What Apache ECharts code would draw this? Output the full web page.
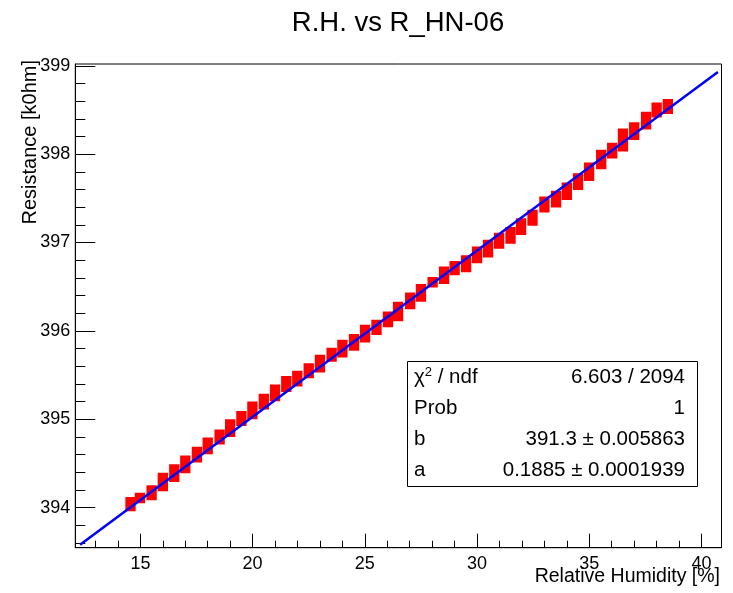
<!DOCTYPE html>
<html><head><meta charset="utf-8">
<script src="https://cdn.jsdelivr.net/npm/echarts@6/dist/echarts.min.js"></script>
<style>html,body{margin:0;padding:0;background:#fff}#c{width:733px;height:593px}</style>
</head><body><div id="c"></div>
<script>
// Cluster centres of the measured points (relative humidity [%], resistance [kOhm])
const rhCenters = [14.56, 14.98, 15.5, 16.0, 16.51, 17.0, 17.52, 18.0, 18.53, 19.0,
  19.5, 19.99, 20.5, 21.0, 21.5, 21.99, 22.5, 23.0, 23.52, 24.0,
  24.52, 25.01, 25.52, 26.03, 26.48, 27.02, 27.5, 28.02, 28.53, 29.0,
  29.51, 30.0, 30.49, 30.98, 31.49, 31.96, 32.47, 33.0, 33.52, 34.0,
  34.5, 34.99, 35.53, 36.02, 36.5, 37.0, 37.53, 38.0, 38.5];
const resCenters = [394.04, 394.11, 394.17, 394.29, 394.39, 394.49, 394.60, 394.70, 394.80, 394.90,
  395.01, 395.10, 395.20, 395.30, 395.40, 395.46, 395.55, 395.63, 395.73, 395.80,
  395.87, 395.97, 396.04, 396.13, 396.22, 396.34, 396.43, 396.55, 396.63, 396.71,
  396.76, 396.86, 396.93, 397.02, 397.08, 397.18, 397.28, 397.43, 397.49, 397.58,
  397.69, 397.80, 397.94, 398.04, 398.16, 398.26, 398.38, 398.50, 398.54];
// half vertical extent of each cluster (points + error bars) [kOhm]
const resSpread = [0.08, 0.06, 0.085, 0.105, 0.10, 0.10, 0.09, 0.095, 0.085, 0.10,
  0.085, 0.10, 0.09, 0.095, 0.09, 0.09, 0.085, 0.10, 0.08, 0.10,
  0.095, 0.10, 0.085, 0.09, 0.11, 0.095, 0.10, 0.06, 0.10, 0.08,
  0.095, 0.095, 0.10, 0.09, 0.095, 0.095, 0.09, 0.09, 0.095, 0.10,
  0.095, 0.105, 0.11, 0.09, 0.13, 0.10, 0.10, 0.085, 0.085];
const rhSpread = 0.23;
// linear fit drawn end points
const fitLineX = [12.31, 40.73];
const fitLineY = [393.58, 398.93];

const xMajorTicks = [15, 20, 25, 30, 35, 40];
const xMinorTicks = [13, 14, 16, 17, 18, 19, 21, 22, 23, 24, 26, 27, 28, 29, 31, 32, 33, 34, 36, 37, 38, 39];
const yMajorTicks = [394, 395, 396, 397, 398, 399];
const yMinorTicks = [393.6, 393.8, 394.2, 394.4, 394.6, 394.8, 395.2, 395.4, 395.6, 395.8,
  396.2, 396.4, 396.6, 396.8, 397.2, 397.4, 397.6, 397.8, 398.2, 398.4, 398.6, 398.8];

const chartTitle = 'R.H. vs R_HN-06';
const xTitle = 'Relative Humidity [%]';
const yTitle = 'Resistance [k0hm]';
const statsLabels = ['χ{sup|2} / ndf', 'Prob', 'b', 'a'];
const statsValues = ['6.603 / 2094', '1', '391.3 ± 0.005863', '0.1885 ± 0.0001939'];

const FONT = '"Liberation Sans", Arial, Helvetica, sans-serif';
const X_MIN = 12.1, X_MAX = 40.89, Y_MIN = 393.547, Y_MAX = 399.02;

const chart = echarts.init(document.getElementById('c'), null, {renderer: 'canvas'});

const clusterData = rhCenters.map((x, i) => [x, resCenters[i], resSpread[i]]);

const statsGraphics = [];
const rowY = [377, 408, 439, 470];
statsLabels.forEach((t, i) => {
  statsGraphics.push({type: 'text', x: 414, y: rowY[i], z: 20,
    style: {text: t, fill: '#000', align: 'left', verticalAlign: 'middle', fontSize: 20.5, fontFamily: FONT,
      rich: {sup: {fontSize: 13, fontFamily: FONT, fill: '#000', padding: [0, 0, 9, 0]}}}});
  statsGraphics.push({type: 'text', x: 685, y: rowY[i], z: 20,
    style: {text: statsValues[i], fill: '#000', align: 'right', verticalAlign: 'middle', fontSize: 20.5, fontFamily: FONT}});
});

const option = {
  animation: false,
  backgroundColor: '#fff',
  grid: {left: 75.3, right: 11.5, top: 64, bottom: 45.3, show: true, borderColor: '#000', borderWidth: 1, backgroundColor: 'transparent'},
  xAxis: [
    {type: 'value', min: X_MIN, max: X_MAX, position: 'bottom',
      axisLine: {show: true, lineStyle: {color: '#000', width: 1}},
      axisTick: {show: true, inside: true, length: 14, customValues: xMajorTicks, lineStyle: {color: '#000', width: 1}},
      axisLabel: {show: true, customValues: xMajorTicks, margin: 7, color: '#000', fontSize: 18, fontFamily: FONT},
      splitLine: {show: false}},
    {type: 'value', min: X_MIN, max: X_MAX, position: 'bottom',
      axisLine: {show: false},
      axisTick: {show: true, inside: true, length: 7, customValues: xMinorTicks, lineStyle: {color: '#000', width: 1}},
      axisLabel: {show: false}, splitLine: {show: false}}
  ],
  yAxis: [
    {type: 'value', min: Y_MIN, max: Y_MAX, position: 'left',
      axisLine: {show: true, lineStyle: {color: '#000', width: 1}},
      axisTick: {show: true, inside: true, length: 20, customValues: yMajorTicks, lineStyle: {color: '#000', width: 1}},
      axisLabel: {show: true, customValues: yMajorTicks, margin: 5, color: '#000', fontSize: 18, fontFamily: FONT},
      splitLine: {show: false}},
    {type: 'value', min: Y_MIN, max: Y_MAX, position: 'left',
      axisLine: {show: false},
      axisTick: {show: true, inside: true, length: 10, customValues: yMinorTicks, lineStyle: {color: '#000', width: 1}},
      axisLabel: {show: false}, splitLine: {show: false}}
  ],
  series: [
    {type: 'custom', xAxisIndex: 0, yAxisIndex: 0, data: clusterData, encode: {x: 0, y: 1}, clip: true, z: 2,
      renderItem: function (params, api) {
        const x = api.value(0), y = api.value(1), e = api.value(2);
        const p1 = api.coord([x - rhSpread, y + e]);
        const p2 = api.coord([x + rhSpread, y - e]);
        return {type: 'rect', shape: {x: p1[0], y: p1[1], width: p2[0] - p1[0], height: p2[1] - p1[1]},
          style: {fill: '#ff0000'}};
      }},
    {type: 'line', xAxisIndex: 0, yAxisIndex: 0, z: 3, symbol: 'none', silent: true,
      data: fitLineX.map((x, i) => [x, fitLineY[i]]),
      lineStyle: {color: '#0000ff', width: 2.5}}
  ],
  graphic: [
    {type: 'text', x: 398, y: 23, style: {text: chartTitle, fontSize: 27.5, fontFamily: FONT, fill: '#000', align: 'center', verticalAlign: 'middle'}},
    {type: 'text', x: 720, y: 577, style: {text: xTitle, fontSize: 19.5, fontFamily: FONT, fill: '#000', align: 'right', verticalAlign: 'middle'}},
    {type: 'text', x: 30, y: 60, rotation: Math.PI / 2, style: {text: yTitle, fontSize: 20, fontFamily: FONT, fill: '#000', align: 'right', verticalAlign: 'middle'}},
    {type: 'rect', shape: {x: 407.5, y: 361.5, width: 290, height: 125}, style: {fill: '#fff', stroke: '#000', lineWidth: 1}, z: 10}
  ].concat(statsGraphics)
};
chart.setOption(option);
</script>
</body></html>
